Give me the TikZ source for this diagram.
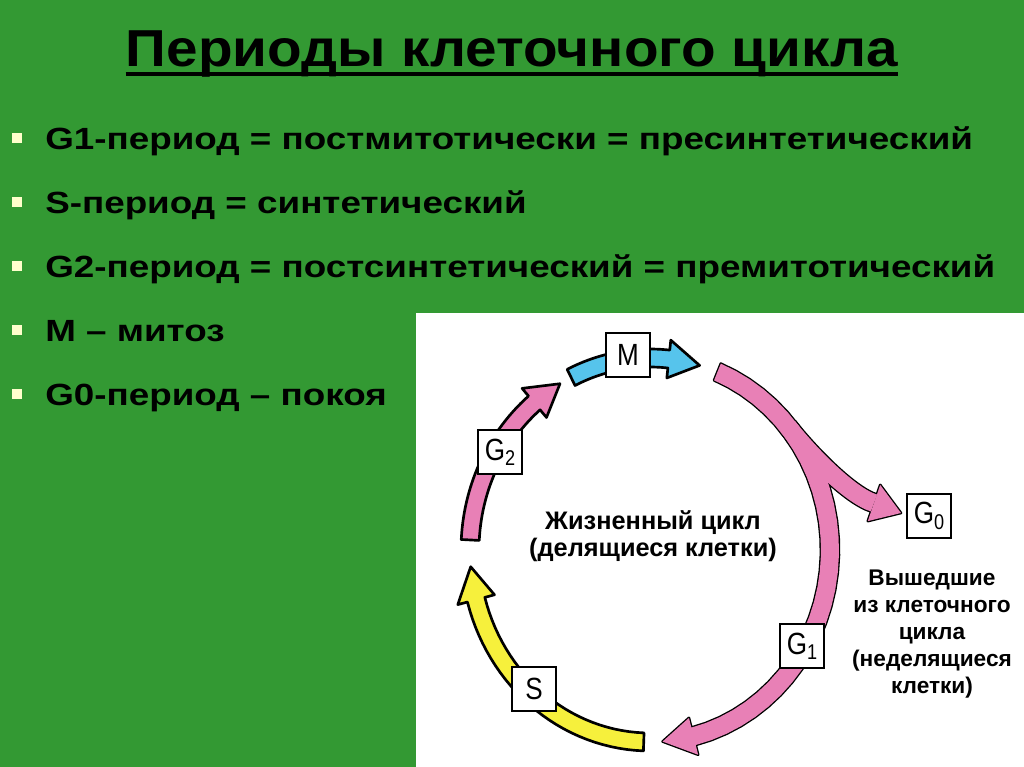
\documentclass[tikz,border=0pt]{standalone}
\usepackage{fontspec}
\setmainfont{Liberation Sans}
\newfontfamily\boxfont[FakeStretch=0.85]{Liberation Sans}
\newfontfamily\titlefont[FakeStretch=1.09]{Liberation Sans}
\newfontfamily\itemfont[FakeStretch=1.2]{Liberation Sans}
\usepackage{xcolor}
\usetikzlibrary{positioning}

\definecolor{slidegreen}{RGB}{51,153,51}
\definecolor{bulletcream}{RGB}{255,255,204}
\definecolor{phasepink}{RGB}{232,128,182}
\definecolor{phaseblue}{RGB}{86,196,236}
\definecolor{phaseyellow}{RGB}{246,240,60}

% subscript of a phase label
\newcommand\phsub[1]{\raisebox{-4pt}{\fontsize{16}{16}\selectfont #1}}

% band of the cycle: #1 tail angle, #2 tip angle (clockwise, centre at origin)
\newcommand\arcband[2]{%
  plot[domain=#1:#2-10, samples=30] ({189*cos(\x)}, {201*sin(\x)})
  -- ({199*cos(#2-10)}, {211*sin(#2-10)})
  -- ({180*cos(#2)}, {192*sin(#2)})
  -- ({161*cos(#2-10)}, {173*sin(#2-10)})
  -- plot[domain=#2-10:#1, samples=30] ({171*cos(\x)}, {183*sin(\x)})
  -- cycle}

\begin{document}
\begin{tikzpicture}[
    x=0.75pt, y=-0.75pt,
    ttl/.style   = {font=\titlefont\fontsize{39}{39}\selectfont\bfseries, inner sep=0pt, anchor=base},
    item/.style  = {font=\itemfont\fontsize{23}{23}\selectfont\bfseries, inner sep=0pt, anchor=base west},
    bul/.style   = {fill=bulletcream, minimum size=8pt, inner sep=0pt},
    phase/.style = {draw, fill=white, line width=1.1pt, minimum width=33pt,
                    minimum height=33pt, inner sep=0pt,
                    font=\boxfont\fontsize{23}{23}\selectfont},
    cptn/.style  = {font=\fontsize{19}{20.5}\selectfont\bfseries, align=center, inner sep=0pt},
    side/.style  = {font=\fontsize{17}{20.25}\selectfont\bfseries, align=center, inner sep=0pt},
    rim/.style   = {draw=black, line width=2pt, line join=round},
]
\useasboundingbox (0,0) rectangle (1024,767);
\fill[slidegreen] (0,0) rectangle (1024,767);

% ============ title and list ============
\node[ttl] (title) at (512,67) {Периоды клеточного цикла};
\draw[line width=3pt] ([yshift=-5pt]title.base west) -- ([yshift=-5pt]title.base east);

\node[bul] (b1) at (17,138) {};
\node[item] (t1) at (45,149) {G1-период = постмитотически = пресинтетический};
\node[bul] (b2) at (17,202) {};
\node[item] (t2) at (45,213) {S-период = синтетический};
\node[bul] (b3) at (17,266) {};
\node[item] (t3) at (45,277) {G2-период = постсинтетический = премитотический};
\node[bul] (b4) at (17,330) {};
\node[item] (t4) at (45,341) {M – митоз};
\node[bul] (b5) at (17,394) {};
\node[item] (t5) at (45,405) {G0-период – покоя};

% ============ cycle panel ============
\fill[white] (416,313) rectangle (1024,767);

\begin{scope}[shift={(650,550)}]
  % blue, yellow and left pink arcs
  \draw[rim, fill=phaseblue] \arcband{244}{286};
  \draw[rim, fill=phaseyellow] \arcband{92}{175};
  \draw[rim, fill=phasepink] \arcband{183}{240};
  % right pink arc with branch to G0: outlines first, then fills
  \coordinate (brstart) at (137.9,-123.4);
  \coordinate (brbase) at (224,-47);
  \coordinate (brtip) at (251,-37);
  \coordinate (brup) at (230.2,-65.1);
  \coordinate (brlow) at (217.8,-28.9);
  \draw[rim] \arcband{-68}{86};
  \draw[line width=15.5pt] (brstart) .. controls (159.5,-95.9) and (200.1,-54.3) .. (brbase);
  \draw[rim] (brup) -- (brtip) -- (brlow) -- cycle;
  \fill[phasepink] \arcband{-68}{86};
  \draw[line width=13.5pt, phasepink] (brstart) .. controls (159.5,-95.9) and (200.1,-54.3) .. (brbase);
  \fill[phasepink] (brup) -- (brtip) -- (brlow) -- cycle;
\end{scope}

\node[phase] (boxM)  at (628,355) {M};
\node[phase] (boxG2) at (500,452) {G\phsub{2}};
\node[phase] (boxS)  at (534,689) {S};
\node[phase] (boxG1) at (802,646) {G\phsub{1}};
\node[phase] (boxG0) at (929,516) {G\phsub{0}};

\node[cptn] (life) at (653,536) {Жизненный цикл\\(делящиеся клетки)};
\node[side] (out) at (932,634) {Вышедшие\\из клеточного\\цикла\\(неделящиеся\\клетки)};

\end{tikzpicture}
\end{document}
